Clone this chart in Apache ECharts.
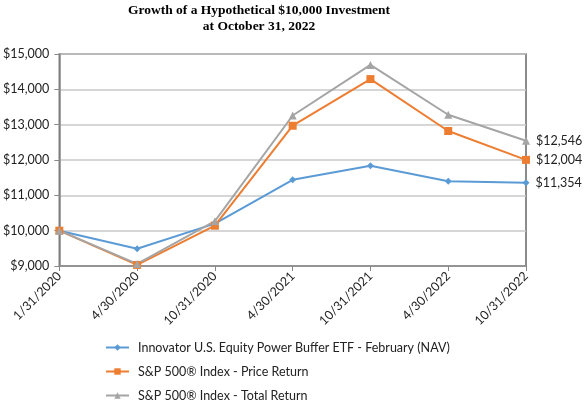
<!DOCTYPE html>
<html><head><meta charset="utf-8">
<script src="https://cdn.jsdelivr.net/npm/echarts@6/dist/echarts.min.js"></script>
<style>html,body{margin:0;padding:0;background:#fff}#c{width:584px;height:403px}</style>
</head><body><div id="c"></div>
<script>
var categories = ['1/31/2020','4/30/2020','10/31/2020','4/30/2021','10/31/2021','4/30/2022','10/31/2022'];
var fundValues = [10000, 9490, 10200, 11440, 11840, 11400, 11354];
var priceReturn = [10000, 9030, 10140, 12970, 14290, 12820, 12004];
var totalReturn = [10000, 9060, 10270, 13260, 14690, 13280, 12546];
var seriesNames = ['Innovator U.S. Equity Power Buffer ETF - February (NAV)', 'S&P 500\u00AE Index - Price Return', 'S&P 500\u00AE Index - Total Return'];
var yTicks = [9000, 10000, 11000, 12000, 13000, 14000, 15000];

var font = 'Lato, "Liberation Sans", sans-serif';
var fs = 12.5;
function fmt(v){ return '$' + v.toLocaleString('en-US'); }
function mk(vals){
  return vals.map(function(v,i){
    if (i === vals.length-1) return {value: v, label: {show: true, position: 'right', distance: 6, formatter: function(p){return fmt(p.value);}, fontFamily: font, fontSize: 12.5, color: '#222'}};
    return v;
  });
}
var chart = echarts.init(document.getElementById('c'), null, {renderer: 'canvas'});
chart.setOption({
  animation: false,
  title: {
    text: 'Growth of a Hypothetical $10,000 Investment\nat October 31, 2022',
    left: 259, textAlign: 'center', top: 0, padding: [3, 0],
    textStyle: {fontFamily: '"Liberation Serif", "Times New Roman", serif', fontWeight: 'bold', fontSize: 13.5, lineHeight: 16, color: '#000'}
  },
  grid: {left: 58, right: 58, top: 54, bottom: 137, show: true, borderColor: '#666', borderWidth: 1.5},
  xAxis: {
    type: 'category', data: categories, boundaryGap: false,
    axisLine: {lineStyle: {color: '#888', width: 1.5}},
    axisTick: {show: true, alignWithLabel: true, length: 5, lineStyle: {color: '#888'}},
    axisLabel: {rotate: 45, fontFamily: font, fontSize: 12.5, color: '#222', margin: 8, interval: 0},
    splitLine: {show: false}
  },
  yAxis: {
    type: 'value', min: yTicks[0], max: yTicks[yTicks.length-1], interval: 1000,
    axisLine: {show: true, lineStyle: {color: '#888', width: 1.5}},
    axisTick: {show: true, length: 5, lineStyle: {color: '#888'}},
    axisLabel: {fontFamily: font, fontSize: 12.5, color: '#222', margin: 10, formatter: fmt},
    splitLine: {show: true, lineStyle: {color: '#c8c8c8', width: 1.5}}
  },
  legend: {
    orient: 'vertical', left: 105, top: 341, padding: 0, itemGap: 11, itemWidth: 23, itemHeight: 8,
    textStyle: {fontFamily: font, fontSize: fs, color: '#222', padding: [0, 0, 0, 4]},
    data: seriesNames
  },
  series: [
    {name: seriesNames[0], type: 'line', data: mk(fundValues), color: '#5B9BD5', lineStyle: {width: 2}, symbol: 'diamond', symbolSize: 7},
    {name: seriesNames[1], type: 'line', data: mk(priceReturn), color: '#ED7D31', lineStyle: {width: 2}, symbol: 'rect', symbolSize: 8},
    {name: seriesNames[2], type: 'line', data: mk(totalReturn), color: '#A5A5A5', lineStyle: {width: 2}, symbol: 'triangle', symbolSize: 8}
  ]
});
</script></body></html>
